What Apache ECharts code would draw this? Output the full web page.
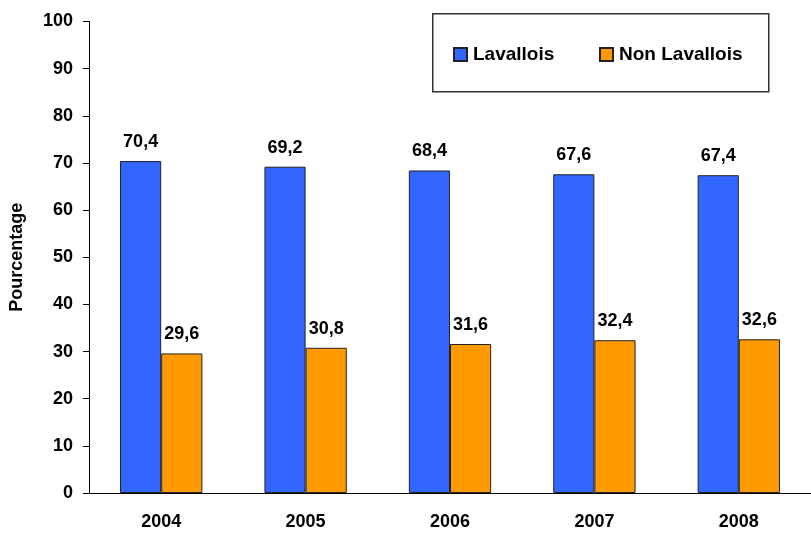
<!DOCTYPE html>
<html>
<head>
<meta charset="utf-8">
<script src="https://cdn.jsdelivr.net/npm/echarts@6/dist/echarts.min.js"></script>
<style>html,body{margin:0;padding:0;background:#fff}#c{width:811px;height:533px}</style>
</head>
<body>
<div id="c"></div>
<script>
const categories = ['2004', '2005', '2006', '2007', '2008'];
const lavallois = [70.4, 69.2, 68.4, 67.6, 67.4];
const nonLavallois = [29.6, 30.8, 31.6, 32.4, 32.6];
const seriesNames = ['Lavallois', 'Non Lavallois'];

const FONT = '"Liberation Sans", Arial, Helvetica, sans-serif';
const fmt = p => String(p.value).replace('.', ',');
const labelStyle = {
  show: true, position: 'top', distance: 10, formatter: fmt,
  color: '#000', fontFamily: FONT, fontWeight: 'bold', fontSize: 18
};

const chart = echarts.init(document.getElementById('c'), null, {renderer: 'canvas'});
chart.setOption({
  animation: false,
  backgroundColor: '#fff',
  grid: {left: 88.5, top: 21.5, width: 735.5, height: 471.5, containLabel: false},
  graphic: [{
    type: 'rect', left: 432, top: 13, z: 0,
    shape: {width: 336, height: 78},
    style: {fill: '#fff', stroke: '#333', lineWidth: 1.5}
  }],
  legend: [
    {data: [seriesNames[0]], left: 453, top: 45, padding: 0, itemWidth: 13, itemHeight: 13, itemGap: 0,
     icon: 'rect', textStyle: {fontFamily: FONT, fontWeight: 'bold', fontSize: 19, color: '#000', padding: [0, 0, 0, 1]}},
    {data: [seriesNames[1]], left: 599, top: 45, padding: 0, itemWidth: 13, itemHeight: 13, itemGap: 0,
     icon: 'rect', textStyle: {fontFamily: FONT, fontWeight: 'bold', fontSize: 19, color: '#000', padding: [0, 0, 0, 1]}}
  ],
  xAxis: {
    type: 'category', data: categories,
    axisLine: {lineStyle: {color: '#000', width: 1}},
    axisTick: {show: false},
    axisLabel: {margin: 20, color: '#000', fontFamily: FONT, fontWeight: 'bold', fontSize: 18}
  },
  yAxis: {
    type: 'value', min: 0, max: 100, interval: 10,
    name: 'Pourcentage', nameLocation: 'middle', nameRotate: 90, nameGap: 63,
    nameTextStyle: {color: '#000', fontFamily: FONT, fontWeight: 'bold', fontSize: 18},
    axisLine: {show: true, lineStyle: {color: '#000', width: 1}},
    axisTick: {show: true, inside: false, length: 6, lineStyle: {color: '#000'}},
    splitLine: {show: false},
    axisLabel: {margin: 16, color: '#000', fontFamily: FONT, fontWeight: 'bold', fontSize: 18}
  },
  series: [
    {name: seriesNames[0], type: 'bar', data: lavallois, barGap: '0%', barCategoryGap: '43%',
     itemStyle: {color: '#3366FF', borderColor: '#222', borderWidth: 1}, label: labelStyle},
    {name: seriesNames[1], type: 'bar', data: nonLavallois, barGap: '0%', barCategoryGap: '43%',
     itemStyle: {color: '#FF9900', borderColor: '#222', borderWidth: 1}, label: labelStyle}
  ]
});
</script>
</body>
</html>
